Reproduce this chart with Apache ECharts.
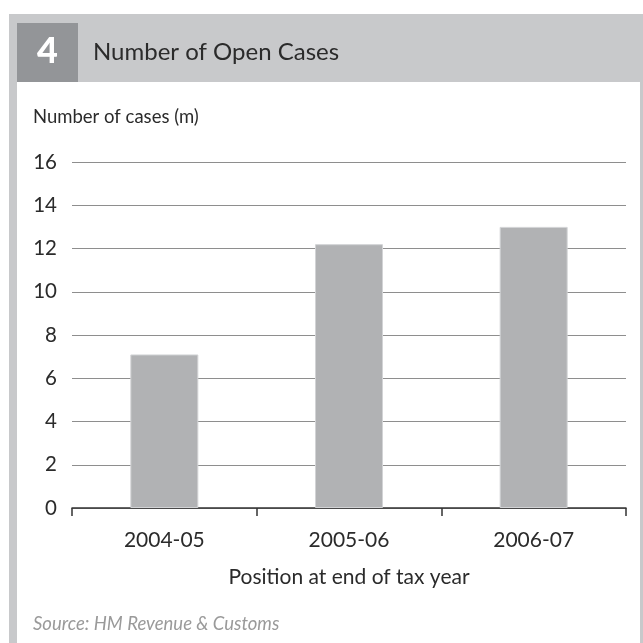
<!DOCTYPE html>
<html>
<head>
<meta charset="utf-8">
<script src="https://cdn.jsdelivr.net/npm/echarts@6/dist/echarts.min.js"></script>
<style>
  html, body { margin: 0; padding: 0; background: #ffffff; }
  #chart { width: 643px; height: 643px; }
</style>
</head>
<body>
<div id="chart"></div>
<script>
// Open cases at the end of each tax year (millions)
const years = ['2004-05', '2005-06', '2006-07'];
const openCases = [7.1, 12.2, 13.0];
const yTicks = [0, 2, 4, 6, 8, 10, 12, 14, 16];

const FONT = 'Lato, "Open Sans", sans-serif';

const chart = echarts.init(document.getElementById('chart'), null, { renderer: 'canvas' });

chart.setOption({
  animation: false,
  backgroundColor: '#ffffff',
  graphic: [
    // panel frame
    { type: 'rect', z: -10, shape: { x: 9, y: 14, width: 634, height: 629 }, style: { fill: '#c8c9cb' } },
    { type: 'rect', z: -9, shape: { x: 17, y: 82, width: 623, height: 561 }, style: { fill: '#ffffff' } },
    // figure number box
    { type: 'rect', z: -8, shape: { x: 17, y: 23, width: 61, height: 59 }, style: { fill: '#939598' } },
    { type: 'text', z: 5, x: 47.5, y: 51, style: { text: '4', fill: '#ffffff', font: '900 36px ' + FONT, align: 'center', verticalAlign: 'middle' } },
    { type: 'text', z: 5, x: 93, y: 52, style: { text: 'Number of Open Cases', fill: '#2b2b2b', font: '24px ' + FONT, align: 'left', verticalAlign: 'middle' } },
    { type: 'text', z: 5, x: 33, y: 117, style: { text: 'Number of cases (m)', fill: '#2b2b2b', font: '18.5px ' + FONT, align: 'left', verticalAlign: 'middle' } },
    { type: 'text', z: 5, x: 349, y: 577, style: { text: 'Position at end of tax year', fill: '#2b2b2b', font: '21px ' + FONT, align: 'center', verticalAlign: 'middle' } },
    { type: 'text', z: 5, x: 33, y: 624, style: { text: 'Source: HM Revenue & Customs', fill: '#9a9a9a', font: 'italic 18.5px ' + FONT, align: 'left', verticalAlign: 'middle' } }
  ],
  grid: { left: 72, right: 17, top: 162, bottom: 135, containLabel: false },
  xAxis: {
    type: 'category',
    data: years,
    axisLine: { show: true, lineStyle: { color: '#333333', width: 1.5 } },
    axisTick: { show: true, length: 8, alignWithLabel: false, lineStyle: { color: '#333333', width: 1.5 } },
    axisLabel: { color: '#2b2b2b', fontSize: 21, fontFamily: FONT, margin: 22 },
    splitLine: { show: false }
  },
  yAxis: {
    type: 'value',
    min: yTicks[0],
    max: yTicks[yTicks.length - 1],
    interval: 2,
    axisLine: { show: false },
    axisTick: { show: false },
    axisLabel: { color: '#2b2b2b', fontSize: 20.5, fontFamily: FONT, margin: 15,
      formatter: v => (yTicks.includes(v) ? String(v) : '') },
    splitLine: { show: true, lineStyle: { color: '#8e8e8e', width: 1.2 } }
  },
  series: [{
    type: 'bar',
    data: openCases,
    barWidth: 68,
    itemStyle: { color: '#b1b2b4', borderColor: '#d2d3d5', borderWidth: 1 },
    z: 3
  }]
});
</script>
</body>
</html>
